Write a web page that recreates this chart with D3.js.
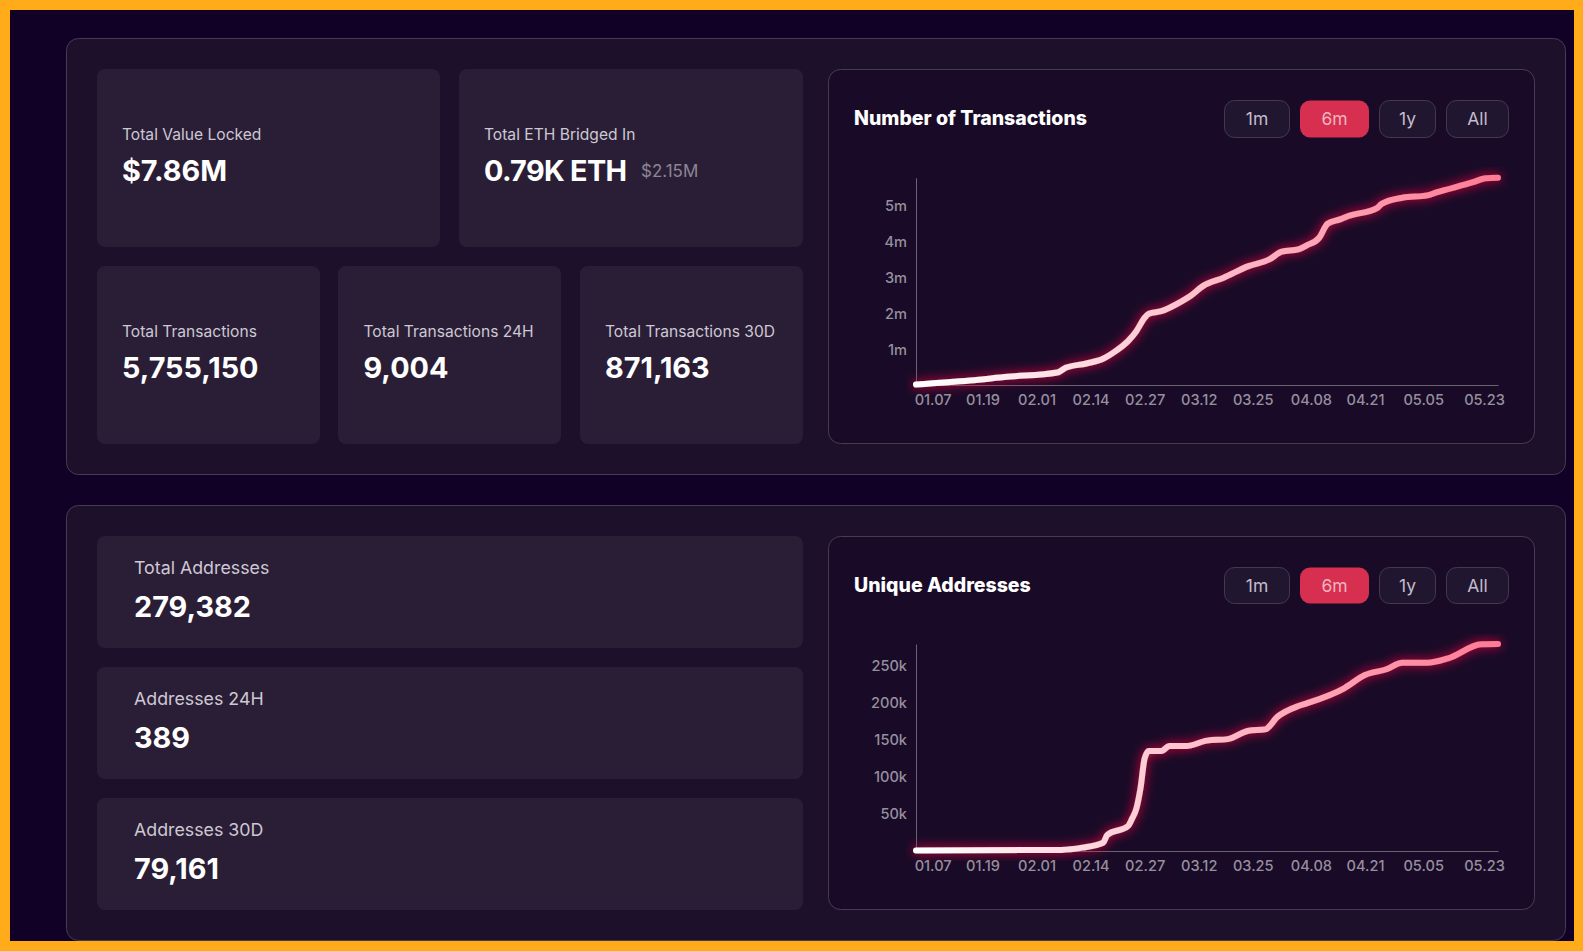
<!DOCTYPE html>
<html>
<head>
<meta charset="utf-8">
<title>Dashboard</title>
<script src="https://cdn.jsdelivr.net/npm/d3@7"></script>
<style>
  html, body { margin: 0; padding: 0; background: #ffab1a; overflow: hidden; }
  svg { display: block; font-family: Inter, "Noto Sans", sans-serif; }
  .label { fill: #cdc8d3; font-size: 15.6px; }
  .label.big { font-size: 17.8px; }
  .value { fill: #fff; font-size: 28.8px; font-weight: 700; }
  .sub { fill: #8d8594; font-size: 17px; }
  .title { fill: #fff; font-size: 19.5px; font-weight: 800; }
  .btn-text { fill: #c4bccc; font-size: 17.5px; text-anchor: middle; }
  .btn-text.on { fill: #f3b4c0; }
  .axis text { fill: #968f9e; font-size: 14.6px; font-weight: 500; font-family: Inter, sans-serif; }
  .axis .domain { stroke: #6a6372; }
</style>
</head>
<body>
<svg id="page" width="1583" height="951"></svg>
<script>
'use strict'

const txDates = ['01-03', '01-16', '01-25', '02-06', '02-08', '02-13', '02-17', '02-20', '02-23', '02-25', '02-27', '02-28', '03-03', '03-08', '03-10', '03-13', '03-18', '03-24', '03-29', '04-01', '04-05', '04-07', '04-10', '04-12', '04-15', '04-17', '04-24', '04-25', '04-30', '05-06', '05-08', '05-17', '05-20', '05-23']
const txValues = [14000, 125000, 227000, 347000, 477000, 597000, 727000, 940000, 1217000, 1495000, 1867000, 1977000, 2050000, 2330000, 2470000, 2745000, 2980000, 3300000, 3486000, 3700000, 3764000, 3875000, 4088000, 4477000, 4597000, 4690000, 4920000, 5030000, 5200000, 5264000, 5338000, 5630000, 5740000, 5755150]

const addrDates = ['01-03', '02-07', '02-12', '02-17', '02-18', '02-23', '02-24', '02-25', '02-26', '02-27', '02-28', '03-03', '03-05', '03-09', '03-14', '03-19', '03-24', '03-28', '03-31', '04-05', '04-07', '04-16', '04-21', '04-26', '04-30', '05-06', '05-11', '05-19', '05-23']
const addrValues = [800, 1500, 4500, 11200, 21600, 33700, 44000, 57000, 84600, 125000, 135000, 135000, 141700, 141700, 149000, 151000, 162400, 164200, 181300, 195700, 199300, 219600, 237500, 245000, 254000, 254000, 260000, 279000, 279382]

const xTickDates = ['01-07', '01-19', '02-01', '02-14', '02-27', '03-12', '03-25', '04-08', '04-21', '05-05', '05-23']
const txTicks = [1000000, 2000000, 3000000, 4000000, 5000000]
const addrTicks = [50000, 100000, 150000, 200000, 250000]
const ranges = ['1m', '6m', '1y', 'All']
const activeRange = '6m'

const topLabels = ['Total Value Locked', 'Total ETH Bridged In', 'Total Transactions', 'Total Transactions 24H', 'Total Transactions 30D']
const topValues = ['$7.86M', '0.79K ETH', '5,755,150', '9,004', '871,163']
const addrLabels = ['Total Addresses', 'Addresses 24H', 'Addresses 30D']
const addrCardValues = ['279,382', '389', '79,161']

const parseDay = d3.utcParse('%Y-%m-%d')
const day = s => parseDay(`2023-${s}`)
const svg = d3.select('#page')

const defs = svg.append('defs')

function box (x0, y0, x1, y1, fill, stroke, r) {
  return svg.append('rect')
    .attr('x', x0).attr('y', y0)
    .attr('width', x1 - x0).attr('height', y1 - y0)
    .attr('rx', r)
    .attr('fill', fill)
    .attr('stroke', stroke || 'none')
}

function text (x, y, str, cls) {
  return svg.append('text').attr('x', x).attr('y', y).attr('class', cls).text(str)
}

function card (x0, y0, x1, y1) {
  box(x0, y0, x1, y1, '#2a1e36', null, 8)
}

function drawChart (o) {
  box(828.5, o.top, 1534.5, o.bottomEdge, '#190a27', '#463c52', 12)
  text(854, o.top + 55.5, o.title, 'title')

  const btnW = [[1224.5, 1289.5], [1300, 1369], [1379.5, 1435.5], [1446.5, 1508.5]]
  ranges.forEach((r, i) => {
    const on = r === activeRange
    box(btnW[i][0], o.top + 31, btnW[i][1], o.top + 31 + o.btnH, on ? '#d62f4f' : '#201630', on ? null : '#443a50', 10)
    text((btnW[i][0] + btnW[i][1]) / 2, o.top + 31 + o.btnH / 2 + 6, r, on ? 'btn-text on' : 'btn-text')
  })

  const x = d3.scaleUtc().domain([day('01-03'), day('05-23')]).range([916, 1498])
  const y = d3.scaleLinear().domain([0, d3.max(o.values)]).range([o.bottom, o.plotTop])

  const xAxis = svg.append('g')
    .attr('class', 'axis')
    .attr('transform', `translate(0,${o.bottom})`)
    .call(d3.axisBottom(x)
      .tickValues(xTickDates.map(day))
      .tickFormat(d3.utcFormat('%m.%d'))
      .tickSize(0)
      .tickPadding(10))
  // last label gets pushed inside the plot
  xAxis.selectAll('.tick:last-of-type text').attr('dx', -14)

  const yAxis = svg.append('g')
    .attr('class', 'axis')
    .attr('transform', 'translate(916,0)')
    .call(d3.axisLeft(y)
      .tickValues(o.ticks)
      .tickFormat(o.format)
      .tickSize(0)
      .tickPadding(9))
  yAxis.selectAll('.tick text').attr('y', o.tickShift)

  const gradId = `grad-${o.id}`
  const grad = defs.append('linearGradient')
    .attr('id', gradId)
    .attr('gradientUnits', 'userSpaceOnUse')
    .attr('x1', 916).attr('x2', 1498)
    .attr('y1', 0).attr('y2', 0)
  grad.append('stop').attr('offset', 0).attr('stop-color', '#ffffff')
  grad.append('stop').attr('offset', 1).attr('stop-color', '#ff7a94')

  const glowId = `glow-${o.id}`
  const glow = defs.append('filter')
    .attr('id', glowId)
    .attr('filterUnits', 'userSpaceOnUse')
    .attr('x', 906).attr('y', o.plotTop - 10)
    .attr('width', 602).attr('height', o.bottom - o.plotTop + 20)
  glow.append('feGaussianBlur').attr('in', 'SourceAlpha').attr('stdDeviation', 5.5).attr('result', 'b')
  glow.append('feFlood').attr('flood-color', '#f01040').attr('flood-opacity', 1)
  glow.append('feComposite').attr('in2', 'b').attr('operator', 'in').attr('result', 'c')
  const merge = glow.append('feMerge')
  merge.append('feMergeNode').attr('in', 'c')
  merge.append('feMergeNode').attr('in', 'SourceGraphic')

  const line = d3.line()
    .x((d, i) => x(day(o.dates[i])))
    .y(d => y(d))
    .curve(d3.curveMonotoneX)

  svg.append('path')
    .datum(o.values)
    .attr('d', line)
    .attr('fill', 'none')
    .attr('stroke', `url(#${gradId})`)
    .attr('stroke-width', 6)
    .attr('stroke-linecap', 'round')
    .attr('stroke-linejoin', 'round')
    .attr('filter', `url(#${glowId})`)
}

// page frame
box(10, 10, 1574, 941, '#120126', null, 0)
box(66.5, 38.5, 1565.5, 474.5, '#1d102b', '#463c52', 12)
box(66.5, 505.5, 1565.5, 940.5, '#1d102b', '#463c52', 12)

// top block
card(97, 69, 440, 247)
card(459, 69, 803, 247)
card(97, 266, 320, 444)
card(338, 266, 561, 444)
card(580, 266, 803, 444)

const topX = [122, 484, 122, 363.5, 605]
const topY = [140, 140, 337, 337, 337]
topLabels.forEach((l, i) => {
  text(topX[i], topY[i], l, 'label')
  const v = text(topX[i], topY[i] + 41, topValues[i], 'value')
  if (i === 1) v.attr('textLength', 143)
})
text(641, 177, '$2.15M', 'sub')

// address block
card(97, 536, 803, 648)
card(97, 667, 803, 779)
card(97, 798, 803, 910)

const addrY = [574, 705, 836]
addrLabels.forEach((l, i) => {
  text(134, addrY[i], l, 'label big')
  text(134, addrY[i] + 43, addrCardValues[i], 'value')
})

drawChart({
  id: 'tx',
  top: 69.5,
  bottomEdge: 443.5,
  btnH: 37,
  title: 'Number of Transactions',
  dates: txDates,
  values: txValues,
  ticks: txTicks,
  format: d => `${d / 1e6}m`,
  tickShift: 1,
  bottom: 385,
  plotTop: 177.7
})

drawChart({
  id: 'addr',
  top: 536.5,
  bottomEdge: 909.5,
  btnH: 36,
  title: 'Unique Addresses',
  dates: addrDates,
  values: addrValues,
  ticks: addrTicks,
  format: d => `${d / 1e3}k`,
  tickShift: 0,
  bottom: 851,
  plotTop: 644
})
</script>
</body>
</html>
